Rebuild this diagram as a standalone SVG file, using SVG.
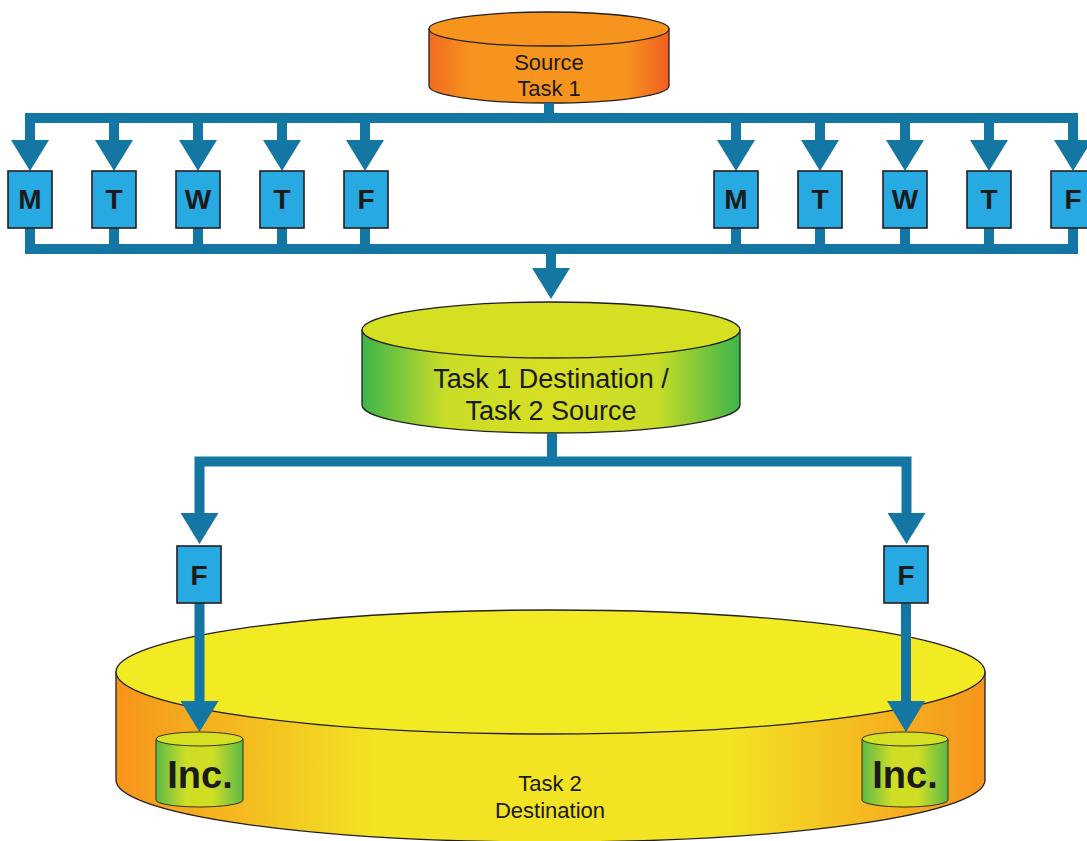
<svg xmlns="http://www.w3.org/2000/svg" width="1087" height="841" viewBox="0 0 1087 841">
<style>
.cyl{stroke:#231f20;stroke-width:1.3}
.rim{stroke:#231f20;stroke-width:0.9}
.box{fill:#27a9e1;stroke:#231f20;stroke-width:1.6}
.lbl{font-family:"Liberation Sans",Arial,sans-serif;font-weight:bold;font-size:28px;fill:#1a1a1a;text-anchor:middle}
.inc{font-family:"Liberation Sans",Arial,sans-serif;font-weight:bold;font-size:38px;fill:#1a1a1a;text-anchor:middle}
.txt{font-family:"Liberation Sans",Arial,sans-serif;fill:#1a1a1a;text-anchor:middle}
.wire{fill:none;stroke:#1476a3;stroke-width:10;stroke-linejoin:miter}
</style>
<defs>
<linearGradient id="gSrc" x1="0" y1="0" x2="1" y2="0">
<stop offset="0" stop-color="#f26a21"/><stop offset="0.18" stop-color="#f7941d"/><stop offset="0.82" stop-color="#f7941d"/><stop offset="1" stop-color="#f15e22"/>
</linearGradient>
<linearGradient id="gMid" x1="0" y1="0" x2="1" y2="0">
<stop offset="0" stop-color="#3cb54a"/><stop offset="0.22" stop-color="#c9dc27"/><stop offset="0.5" stop-color="#d7df23"/><stop offset="0.78" stop-color="#c9dc27"/><stop offset="1" stop-color="#3cb54a"/>
</linearGradient>
<linearGradient id="gBig" x1="0" y1="0" x2="1" y2="0">
<stop offset="0" stop-color="#f7941d"/><stop offset="0.3" stop-color="#f2e423"/><stop offset="0.7" stop-color="#f2e423"/><stop offset="1" stop-color="#f7941d"/>
</linearGradient>
<linearGradient id="gInc" x1="0" y1="0" x2="1" y2="0">
<stop offset="0" stop-color="#5db947"/><stop offset="0.35" stop-color="#cfdd25"/><stop offset="0.65" stop-color="#cfdd25"/><stop offset="1" stop-color="#5db947"/>
</linearGradient>
<marker id="arr" markerUnits="userSpaceOnUse" markerWidth="31" markerHeight="38" refX="0" refY="19" orient="auto-start-reverse" viewBox="0 0 31 38">
<path d="M0,0 L31,19 L0,38 Z" fill="#1476a3"/>
</marker>
</defs>

<g id="task2-destination">
<path class="cyl" fill="url(#gBig)" d="M116,672 V780 A434.5,62 0 0 0 985,780 V672 Z"/>
<ellipse class="cyl" fill="#f2ea23" cx="550.5" cy="672" rx="434.5" ry="62"/>
<text class="txt" font-size="22" x="550" y="791">Task 2</text>
<text class="txt" font-size="22" x="550" y="818">Destination</text>
</g>

<g id="source-task1">
<path class="cyl" fill="url(#gSrc)" d="M429,29 V86 A120,17 0 0 0 669,86 V29 Z"/>
<ellipse class="cyl" fill="#f7941d" cx="549" cy="29" rx="120" ry="17"/>
<text class="txt" font-size="22" x="549" y="70">Source</text>
<text class="txt" font-size="22" x="549" y="96">Task 1</text>
</g>

<g id="task1-dest-task2-source">
<path class="cyl" fill="url(#gMid)" d="M362,330 V405 A189,28 0 0 0 740,405 V330 Z"/>
<ellipse class="cyl" fill="#d5e022" cx="551" cy="330" rx="189" ry="28"/>
<text class="txt" font-size="27" x="551" y="388">Task 1 Destination /</text>
<text class="txt" font-size="27" x="551" y="420">Task 2 Source</text>
</g>

<g id="connectors">
<path class="wire" d="M549,103 V118"/>
<path class="wire" d="M30,140 V118 H1073 V140" marker-start="url(#arr)" marker-end="url(#arr)"/>
<path class="wire" d="M114,118 V140" marker-end="url(#arr)"/>
<path class="wire" d="M198,118 V140" marker-end="url(#arr)"/>
<path class="wire" d="M282,118 V140" marker-end="url(#arr)"/>
<path class="wire" d="M365,118 V140" marker-end="url(#arr)"/>
<path class="wire" d="M736,118 V140" marker-end="url(#arr)"/>
<path class="wire" d="M820,118 V140" marker-end="url(#arr)"/>
<path class="wire" d="M905,118 V140" marker-end="url(#arr)"/>
<path class="wire" d="M989,118 V140" marker-end="url(#arr)"/>
<path class="wire" d="M30,228 V249 H1073 V228"/>
<path class="wire" d="M114,228 V249"/>
<path class="wire" d="M198,228 V249"/>
<path class="wire" d="M282,228 V249"/>
<path class="wire" d="M365,228 V249"/>
<path class="wire" d="M736,228 V249"/>
<path class="wire" d="M820,228 V249"/>
<path class="wire" d="M905,228 V249"/>
<path class="wire" d="M989,228 V249"/>
<path class="wire" d="M551,254 V268" marker-end="url(#arr)"/>
<path class="wire" d="M552,433 V461.5"/>
<path class="wire" d="M199.5,513 V461.5 H906.5 V513" marker-start="url(#arr)" marker-end="url(#arr)"/>
<path class="wire" d="M199.5,603 V701" marker-end="url(#arr)"/>
<path class="wire" d="M906,603 V701" marker-end="url(#arr)"/>
</g>

<g id="box-mon-1"><rect class="box" x="8" y="171" width="44" height="57"/><text class="lbl" x="30" y="209">M</text></g>
<g id="box-tue-1"><rect class="box" x="92" y="171" width="44" height="57"/><text class="lbl" x="114" y="209">T</text></g>
<g id="box-wed-1"><rect class="box" x="176" y="171" width="44" height="57"/><text class="lbl" x="198" y="209">W</text></g>
<g id="box-thu-1"><rect class="box" x="260" y="171" width="44" height="57"/><text class="lbl" x="282" y="209">T</text></g>
<g id="box-fri-1"><rect class="box" x="344" y="171" width="44" height="57"/><text class="lbl" x="366" y="209">F</text></g>
<g id="box-mon-2"><rect class="box" x="714" y="171" width="44" height="57"/><text class="lbl" x="736" y="209">M</text></g>
<g id="box-tue-2"><rect class="box" x="798" y="171" width="44" height="57"/><text class="lbl" x="820" y="209">T</text></g>
<g id="box-wed-2"><rect class="box" x="883" y="171" width="44" height="57"/><text class="lbl" x="905" y="209">W</text></g>
<g id="box-thu-2"><rect class="box" x="967" y="171" width="44" height="57"/><text class="lbl" x="989" y="209">T</text></g>
<g id="box-fri-2"><rect class="box" x="1051" y="171" width="44" height="57"/><text class="lbl" x="1073" y="209">F</text></g>

<g id="box-fri-left"><rect class="box" x="177" y="546" width="44" height="57"/><text class="lbl" x="199" y="585">F</text></g>
<g id="box-fri-right"><rect class="box" x="884" y="546" width="44" height="57"/><text class="lbl" x="906" y="585">F</text></g>

<g id="inc-left">
<path class="rim" fill="url(#gInc)" d="M156,739 V800 A43.5,7 0 0 0 243,800 V739 Z"/>
<ellipse class="rim" fill="#d4e021" cx="199.5" cy="739" rx="43.5" ry="7"/>
<text class="inc" x="200" y="788">Inc.</text>
</g>
<g id="inc-right">
<path class="rim" fill="url(#gInc)" d="M862,739 V800 A43,7 0 0 0 948,800 V739 Z"/>
<ellipse class="rim" fill="#d4e021" cx="905" cy="739" rx="43" ry="7"/>
<text class="inc" x="905" y="788">Inc.</text>
</g>
</svg>
